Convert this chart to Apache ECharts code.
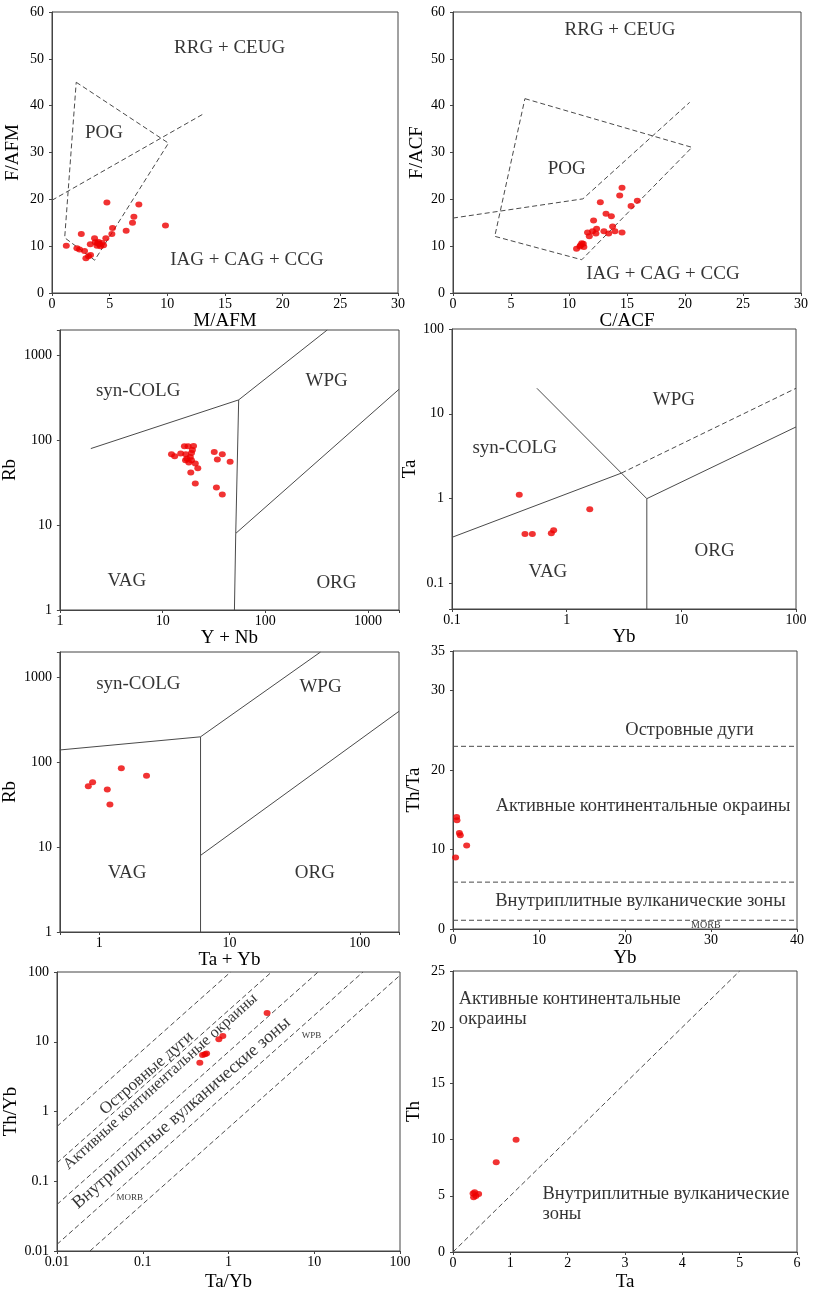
<!DOCTYPE html>
<html><head><meta charset="utf-8">
<script src="https://cdn.jsdelivr.net/npm/echarts@6/dist/echarts.min.js"></script>
<style>html,body{margin:0;padding:0;background:#fff}#c{width:821px;height:1293px}</style>
</head><body><div id="c"></div>
<script>
// ---------- DATA ----------
// Panel 1: M/AFM vs F/AFM
const p1X = [1.24,2.16,2.39,2.54,2.82,2.94,3.17,3.34,3.32,3.69,3.75,3.9,4.04,4.12,4.33,4.47,4.2,3.95,4.67,4.76,5.19,5.25,6.43,6.98,7.1,7.53,9.84];
const p1Y = [10.1,9.56,9.28,12.6,8.99,7.43,7.85,8.13,10.4,11.7,10.85,10.1,10.9,10.4,10.7,10.2,10.0,10.6,11.7,19.3,12.6,13.9,13.3,15.0,16.3,18.9,14.4];
const p1Pog = [[2.1,45],[10.1,32],[3.7,7],[1.1,11.8],[2.1,45]];
const p1Div = [[0,19.8],[13.1,38.2]];
// Panel 2: C/ACF vs F/ACF
const p2X = [14.57,14.37,15.89,15.35,12.7,12.12,13.19,13.65,13.76,13.96,14.57,13.01,13.42,12.38,12.32,11.6,11.75,12.03,10.65,10.94,11.23,11.28,11.0,11.1];
const p2Y = [22.5,20.8,19.7,18.6,19.4,15.5,16.9,16.4,14.2,13.2,12.9,13.2,12.7,13.7,12.7,12.9,12.1,13.2,9.46,9.95,10.5,9.82,10.2,10.6];
const p2Pog = [[6.2,41.5],[20.6,31.1],[11.1,7.1],[3.6,12.1],[6.2,41.5]];
const p2Div = [[0,16],[11.2,20.1],[20.4,40.7]];
// Panel 3: Y+Nb vs Rb
const p3X = [12.2,13.1,15.0,16.3,17.7,20.0,16.8,19.1,18.6,16.7,18.0,19.1,20.8,22.0,18.8,20.8,31.8,38.1,34.1,45.4,33.4,38.1,17.2,19.5];
const p3Y = [68.4,64.8,69.8,85,85,85.7,68.4,70.9,63.6,58.2,54.7,58.2,53.2,46.9,41.7,31,72.8,68.4,59.3,56.1,27.8,23.0,60.5,77];
const p3Lines = [[[2,80],[55,300]],[[55,300],[400,2000]],[[55,300],[51.5,8],[50,1]],[[51.5,8],[2000,400]]];
// Panel 4: Yb vs Ta
const p4X = [0.386,0.433,0.502,0.735,0.77,1.59];
const p4Y = [1.11,0.384,0.384,0.391,0.424,0.749];
const p4Solid = [[[0.1,0.35],[3,2]],[[0.55,20],[3,2],[5,1]],[[5,1],[5,0.05]],[[5,1],[100,7]]];
const p4Dash = [[[3,2],[100,20]]];
// Panel 5: Ta+Yb vs Rb
const p5X = [0.826,0.891,1.155,1.21,1.48,2.31];
const p5Y = [52.2,58.2,47.7,31.8,85,69.7];
const p5Lines = [[[0.5,140],[6,200]],[[6,200],[50,2000]],[[6,200],[6,1]],[[6,8],[200,400]]];
// Panel 6: Yb vs Th/Ta
const p6X = [0.3,0.46,0.42,0.74,0.85,1.59];
const p6Y = [9.0,13.7,14.1,12.1,11.8,10.5];
const p6Levels = [23, 5.9, 1.1];
// Panel 7: Ta/Yb vs Th/Yb
const p7X = [0.463,0.498,0.53,0.555,0.772,0.859,2.82];
const p7Y = [5.01,6.45,6.6,6.81,10.9,12.05,25.9];
const p7Lines = [[[0.01,0.61],[1.06,100]],[[0.01,0.183],[3.18,100]],[[0.01,0.0464],[11.1,100]],[[0.01,0.01245],[37,100]],[[0.0242,0.01],[100,89.6]]];
// Panel 8: Ta vs Th
const p8X = [1.10,0.754,0.377,0.36,0.447,0.40,0.35];
const p8Y = [9.99,7.98,5.31,4.86,5.16,4.98,5.2];
const p8Line = [[0,0],[5,25]];

// ---------- BUILD ----------
const FONT = 'Liberation Serif';
const AX = '#444', LN = '#4a4a4a', PT = '#ee0000';
const grids = [], xAxes = [], yAxes = [], series = [];
const zip = (a, b) => a.map((v, i) => [v, b[i]]);
function logFmt(v) {
  const l = Math.log10(v);
  if (Math.abs(l - Math.round(l)) > 1e-6) return '';
  return String(Number(v.toPrecision(6)));
}
function axis(a, i, isY) {
  const o = {
    gridIndex: i, type: a.type, min: a.min, max: a.max,
    name: a.name, nameLocation: 'middle', nameGap: a.gap,
    nameTextStyle: { fontFamily: FONT, fontSize: 19, color: '#000' },
    axisLine: { show: true, onZero: false, lineStyle: { color: AX, width: 1 } },
    axisTick: { show: true, inside: false, length: 3, lineStyle: { color: AX } },
    axisLabel: { fontFamily: FONT, fontSize: 14, color: '#000', margin: isY ? 8 : 4, showMinLabel: true, showMaxLabel: true, hideOverlap: false },
    splitLine: { show: false }, minorTick: { show: false }, minorSplitLine: { show: false }
  };
  if (a.type === 'log') { o.logBase = 10; o.axisLabel.formatter = logFmt; }
  else { o.interval = a.interval; }
  return o;
}
function panel(box, xa, ya) {
  const i = grids.length;
  grids.push({ left: box[0], top: box[1], width: box[2] - box[0], height: box[3] - box[1],
    show: true, borderColor: AX, borderWidth: 1, backgroundColor: 'transparent', containLabel: false });
  xAxes.push(axis(xa, i, false));
  yAxes.push(axis(ya, i, true));
  return i;
}
function pts(i, xs, ys) {
  series.push({ type: 'scatter', xAxisIndex: i, yAxisIndex: i, data: zip(xs, ys), symbol: 'circle',
    symbolSize: [7, 6], itemStyle: { color: PT }, z: 10, silent: true });
}
function line(i, data, dashed) {
  series.push({ type: 'line', xAxisIndex: i, yAxisIndex: i, data: data, symbol: 'none', silent: true,
    lineStyle: { color: LN, width: 1, type: dashed ? [5, 3] : 'solid' }, z: 3 });
}
function texts(i, items) {
  series.push({ type: 'scatter', xAxisIndex: i, yAxisIndex: i, symbol: 'circle', symbolSize: 1,
    itemStyle: { color: 'rgba(0,0,0,0)' }, silent: true, z: 6,
    data: items.map(t => ({ value: [t.x, t.y], name: t.t,
      label: Object.assign({ show: true, position: 'inside', formatter: '{b}', fontFamily: FONT,
        fontSize: t.fs || 19, color: '#000' }, t.opt || {}) })) });
}

// Panel 1
let g = panel([52, 12, 398, 293], { type: 'value', min: 0, max: 30, interval: 5, name: 'M/AFM', gap: 16 },
  { type: 'value', min: 0, max: 60, interval: 10, name: 'F/AFM', gap: 29 });
line(g, p1Pog, true); line(g, p1Div, true); pts(g, p1X, p1Y);
texts(g, [{ t: 'RRG + CEUG', x: 15.4, y: 52.4 }, { t: 'POG', x: 4.5, y: 34.2 }, { t: 'IAG + CAG + CCG', x: 16.9, y: 7.0 }]);

// Panel 2
g = panel([453, 12, 801, 293], { type: 'value', min: 0, max: 30, interval: 5, name: 'C/ACF', gap: 16 },
  { type: 'value', min: 0, max: 60, interval: 10, name: 'F/ACF', gap: 26 });
line(g, p2Pog, true); line(g, p2Div, true); pts(g, p2X, p2Y);
texts(g, [{ t: 'RRG + CEUG', x: 14.4, y: 56.1 }, { t: 'POG', x: 9.8, y: 26.5 }, { t: 'IAG + CAG + CCG', x: 18.1, y: 4.1 }]);

// Panel 3
g = panel([53, 330, 399, 610], { type: 'log', min: 1, max: 2000, name: 'Y + Nb', gap: 18 },
  { type: 'log', min: 1, max: 2000, name: 'Rb', gap: 37 });
p3Lines.forEach(l => line(g, l, false)); pts(g, p3X, p3Y);
texts(g, [{ t: 'syn-COLG', x: 5.78, y: 380 }, { t: 'WPG', x: 395, y: 499 }, { t: 'VAG', x: 4.48, y: 2.21 }, { t: 'ORG', x: 492, y: 2.06 }]);

// Panel 4
g = panel([452, 329, 796, 609], { type: 'log', min: 0.1, max: 100, name: 'Yb', gap: 19 },
  { type: 'log', min: 0.05, max: 100, name: 'Ta', gap: 31 });
p4Solid.forEach(l => line(g, l, false)); p4Dash.forEach(l => line(g, l, true)); pts(g, p4X, p4Y);
texts(g, [{ t: 'WPG', x: 8.6, y: 14.7 }, { t: 'syn-COLG', x: 0.352, y: 4.0 }, { t: 'VAG', x: 0.687, y: 0.138 }, { t: 'ORG', x: 19.5, y: 0.242 }]);

// Panel 5
g = panel([54, 652, 399, 932], { type: 'log', min: 0.5, max: 200, name: 'Ta + Yb', gap: 16 },
  { type: 'log', min: 1, max: 2000, name: 'Rb', gap: 38 });
p5Lines.forEach(l => line(g, l, false)); pts(g, p5X, p5Y);
texts(g, [{ t: 'syn-COLG', x: 2.0, y: 850 }, { t: 'WPG', x: 50, y: 763 }, { t: 'VAG', x: 1.64, y: 4.94 }, { t: 'ORG', x: 45.2, y: 4.99 }]);

// Panel 6
g = panel([453, 651, 797, 929], { type: 'value', min: 0, max: 40, interval: 10, name: 'Yb', gap: 20 },
  { type: 'value', min: 0, max: 35, interval: 10, name: 'Th/Ta', gap: 29 });
p6Levels.forEach(v => line(g, [[0, v], [40, v]], true)); pts(g, p6X, p6Y);
texts(g, [{ t: 'Островные дуги', x: 27.5, y: 25.0, fs: 18.5 }, { t: 'Активные континентальные окраины', x: 22.1, y: 15.5, fs: 18.5 },
  { t: 'Внутриплитные вулканические зоны', x: 21.8, y: 3.5, fs: 18.5 }, { t: 'MORB', x: 29.4, y: 0.45, fs: 10 }]);

// Panel 7
g = panel([57, 972, 400, 1252], { type: 'log', min: 0.01, max: 100, name: 'Ta/Yb', gap: 22 },
  { type: 'log', min: 0.01, max: 100, name: 'Th/Yb', gap: 33 });
p7Lines.forEach(l => line(g, l, true)); pts(g, p7X, p7Y);
texts(g, [{ t: 'Островные дуги', x: 0.111, y: 3.54, fs: 17, opt: { rotate: 41 } },
  { t: 'Активные континентальные окраины', x: 0.161, y: 2.68, fs: 16, opt: { rotate: 42 } },
  { t: 'Внутриплитные вулканические зоны', x: 0.283, y: 0.95, fs: 18, opt: { rotate: 41 } },
  { t: 'MORB', x: 0.0707, y: 0.058, fs: 9 }, { t: 'WPB', x: 9.27, y: 12.3, fs: 9 }]);

// Panel 8
g = panel([453, 971, 797, 1252], { type: 'value', min: 0, max: 6, interval: 1, name: 'Ta', gap: 21 },
  { type: 'value', min: 0, max: 25, interval: 5, name: 'Th', gap: 29 });
line(g, p8Line, true); pts(g, p8X, p8Y);
texts(g, [{ t: 'Активные континентальные\nокраины', x: 0.1, y: 21.6, fs: 18.5, opt: { align: 'left', lineHeight: 20 } },
  { t: 'Внутриплитные вулканические\nзоны', x: 1.56, y: 4.25, fs: 18.5, opt: { align: 'left', lineHeight: 20 } }]);

const chart = echarts.init(document.getElementById('c'), null, { renderer: 'canvas' });
chart.setOption({ animation: false, backgroundColor: '#fff', grid: grids, xAxis: xAxes, yAxis: yAxes, series: series });
</script></body></html>
